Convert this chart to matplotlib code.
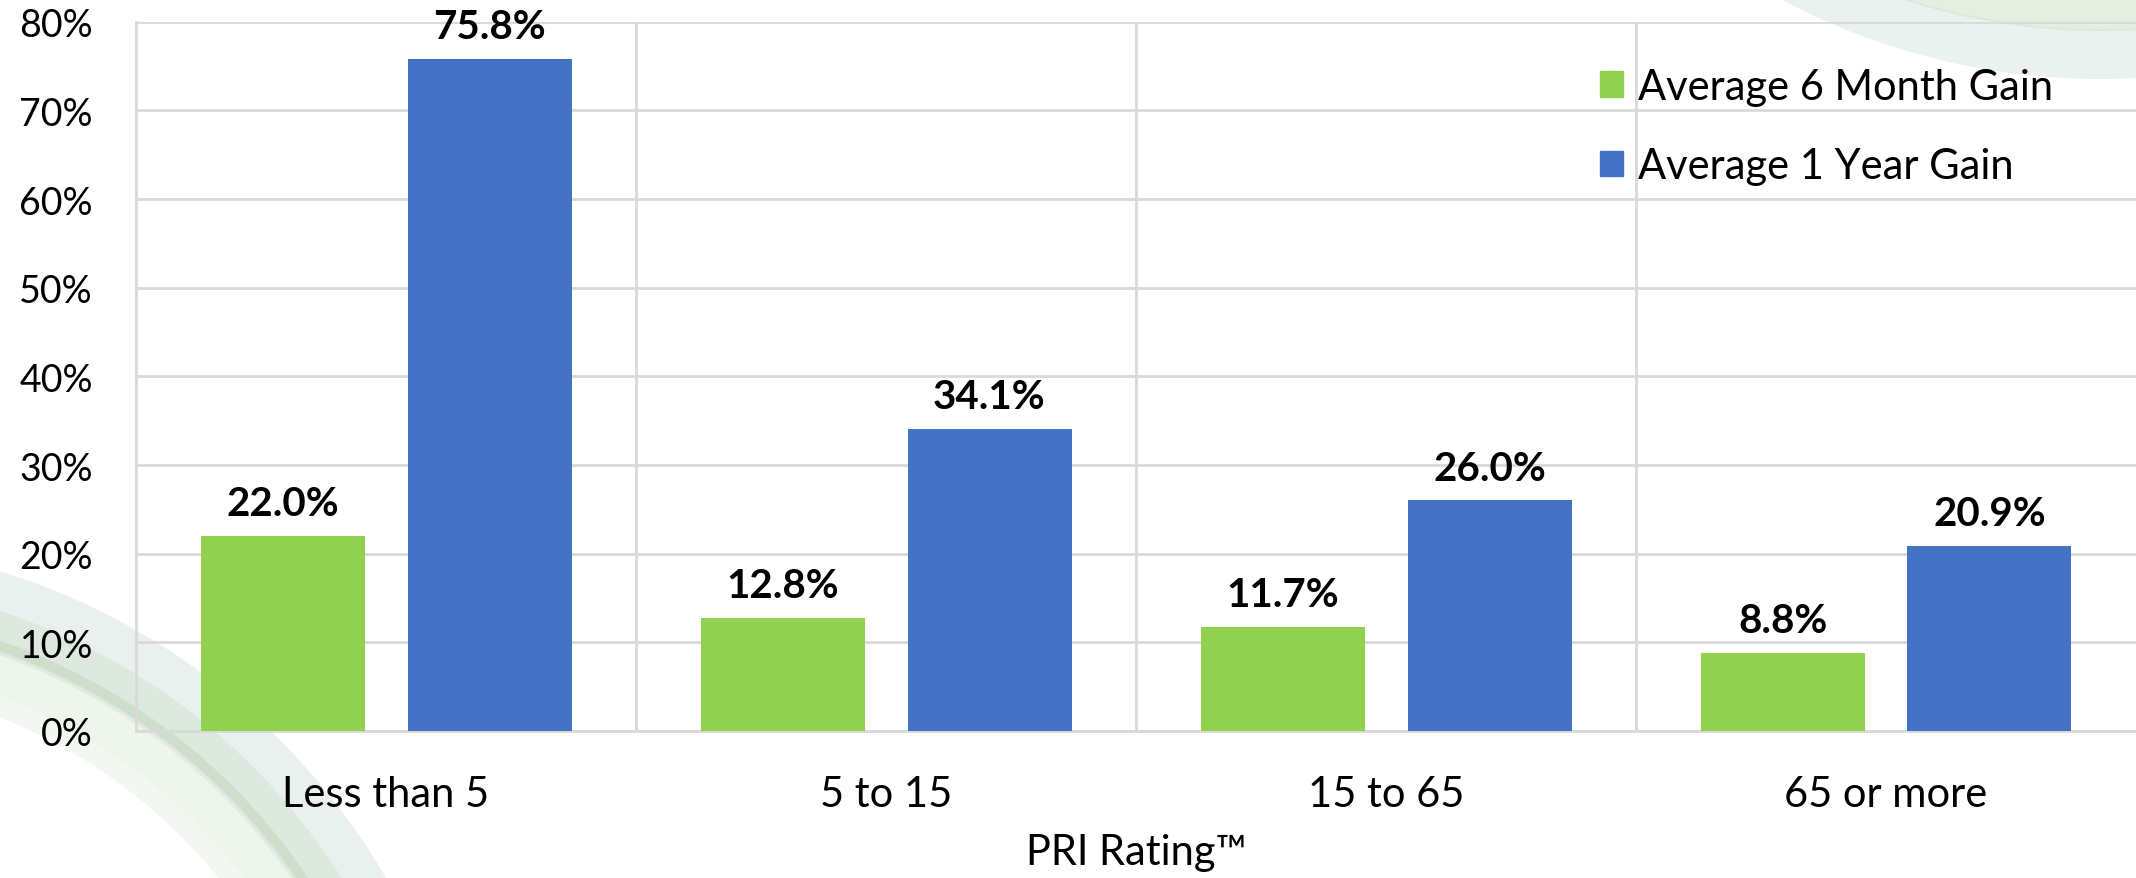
import matplotlib.pyplot as plt
import numpy as np
from matplotlib.patches import Patch, Wedge
from matplotlib.ticker import PercentFormatter

# ---------- Data ----------
categories = ["Less than 5", "5 to 15", "15 to 65", "65 or more"]
gain_6m = [22.0, 12.8, 11.7, 8.8]
gain_1y = [75.8, 34.1, 26.0, 20.9]
series_names = ["Average 6 Month Gain", "Average 1 Year Gain"]
yticks = [0, 10, 20, 30, 40, 50, 60, 70, 80]

GREEN = "#92D050"
BLUE = "#4472C4"
GRID = "#D9D9D9"

plt.rcParams['font.family'] = ['Lato', 'DejaVu Sans']

W, H = 2136, 879
fig = plt.figure(figsize=(W / 100, H / 100), dpi=100)

# ---------- Decorative background swirls (pixel coords, y down) ----------
bg = fig.add_axes([0, 0, 1, 1], zorder=0)
bg.set_xlim(0, W)
bg.set_ylim(H, 0)
bg.axis('off')

def band(center, theta1, theta2, rings):
    for r_out, width, col, alpha in rings:
        bg.add_patch(Wedge(center, r_out, theta1, theta2, width=width,
                           color=col, alpha=alpha, lw=0))

# bottom-left
band((-200, 1220), 270, 360, [
    (678, 80, "#dfe8e6", 0.65),
    (640, 40, "#cfe0cb", 0.45),
    (612, 10, "#b7d1ae", 0.4),
    (600, 40, "#d6e6cf", 0.4),
    (560, 20, "#e6efe2", 0.45),
])
# top-right
band((2100, -600), 0, 180, [
    (680, 50, "#e6eeec", 0.8),
    (632, 45, "#d3e5cc", 0.6),
    (590, 30, "#e2eedb", 0.5),
])

# ---------- Bars ----------
ax = fig.add_axes([136 / W, 1 - 732 / H, 2000 / W, (732 - 22.7) / H], zorder=1)
ax.patch.set_alpha(0)

x = np.arange(len(categories))
bw = 0.328
off = 0.207
b1 = ax.bar(x - off, gain_6m, bw, color=GREEN, zorder=3)
b2 = ax.bar(x + off, gain_1y, bw, color=BLUE, zorder=3)

for bars, vals in [(b1, gain_6m), (b2, gain_1y)]:
    for rect, v in zip(bars, vals):
        ax.annotate(f"{v:.1f}%", (rect.get_x() + rect.get_width() / 2, v),
                    xytext=(0, 10), textcoords='offset points',
                    ha='center', va='bottom', fontsize=29, fontweight='bold')

ax.set_xlim(-0.5, 3.5)
ax.set_ylim(0, 80)
ax.set_yticks(yticks)
ax.yaxis.set_major_formatter(PercentFormatter(decimals=0))
ax.set_xticks(x)
ax.set_xticklabels(categories)
ax.tick_params(axis='y', length=0, pad=31, labelsize=27)
ax.tick_params(axis='x', length=0, pad=32, labelsize=30)
ax.set_xlabel("PRI Rating™", fontsize=30, labelpad=14)

ax.yaxis.grid(True, color=GRID, lw=2, zorder=0)
for xb in [0.5, 1.5, 2.5]:
    ax.axvline(xb, color=GRID, lw=2, zorder=0)
for s in ['top', 'right']:
    ax.spines[s].set_visible(False)
for s in ['left', 'bottom']:
    ax.spines[s].set_color(GRID)
    ax.spines[s].set_linewidth(2)

handles = [Patch(color=GREEN), Patch(color=BLUE)]
ax.legend(handles, series_names, loc='upper left', bbox_to_anchor=(0.732, 0.935),
          frameon=False, fontsize=30, handlelength=0.56, handleheight=0.56,
          handletextpad=0.35, labelspacing=1.0, borderpad=0, borderaxespad=0)

fig.savefig("out.png", dpi=100)
